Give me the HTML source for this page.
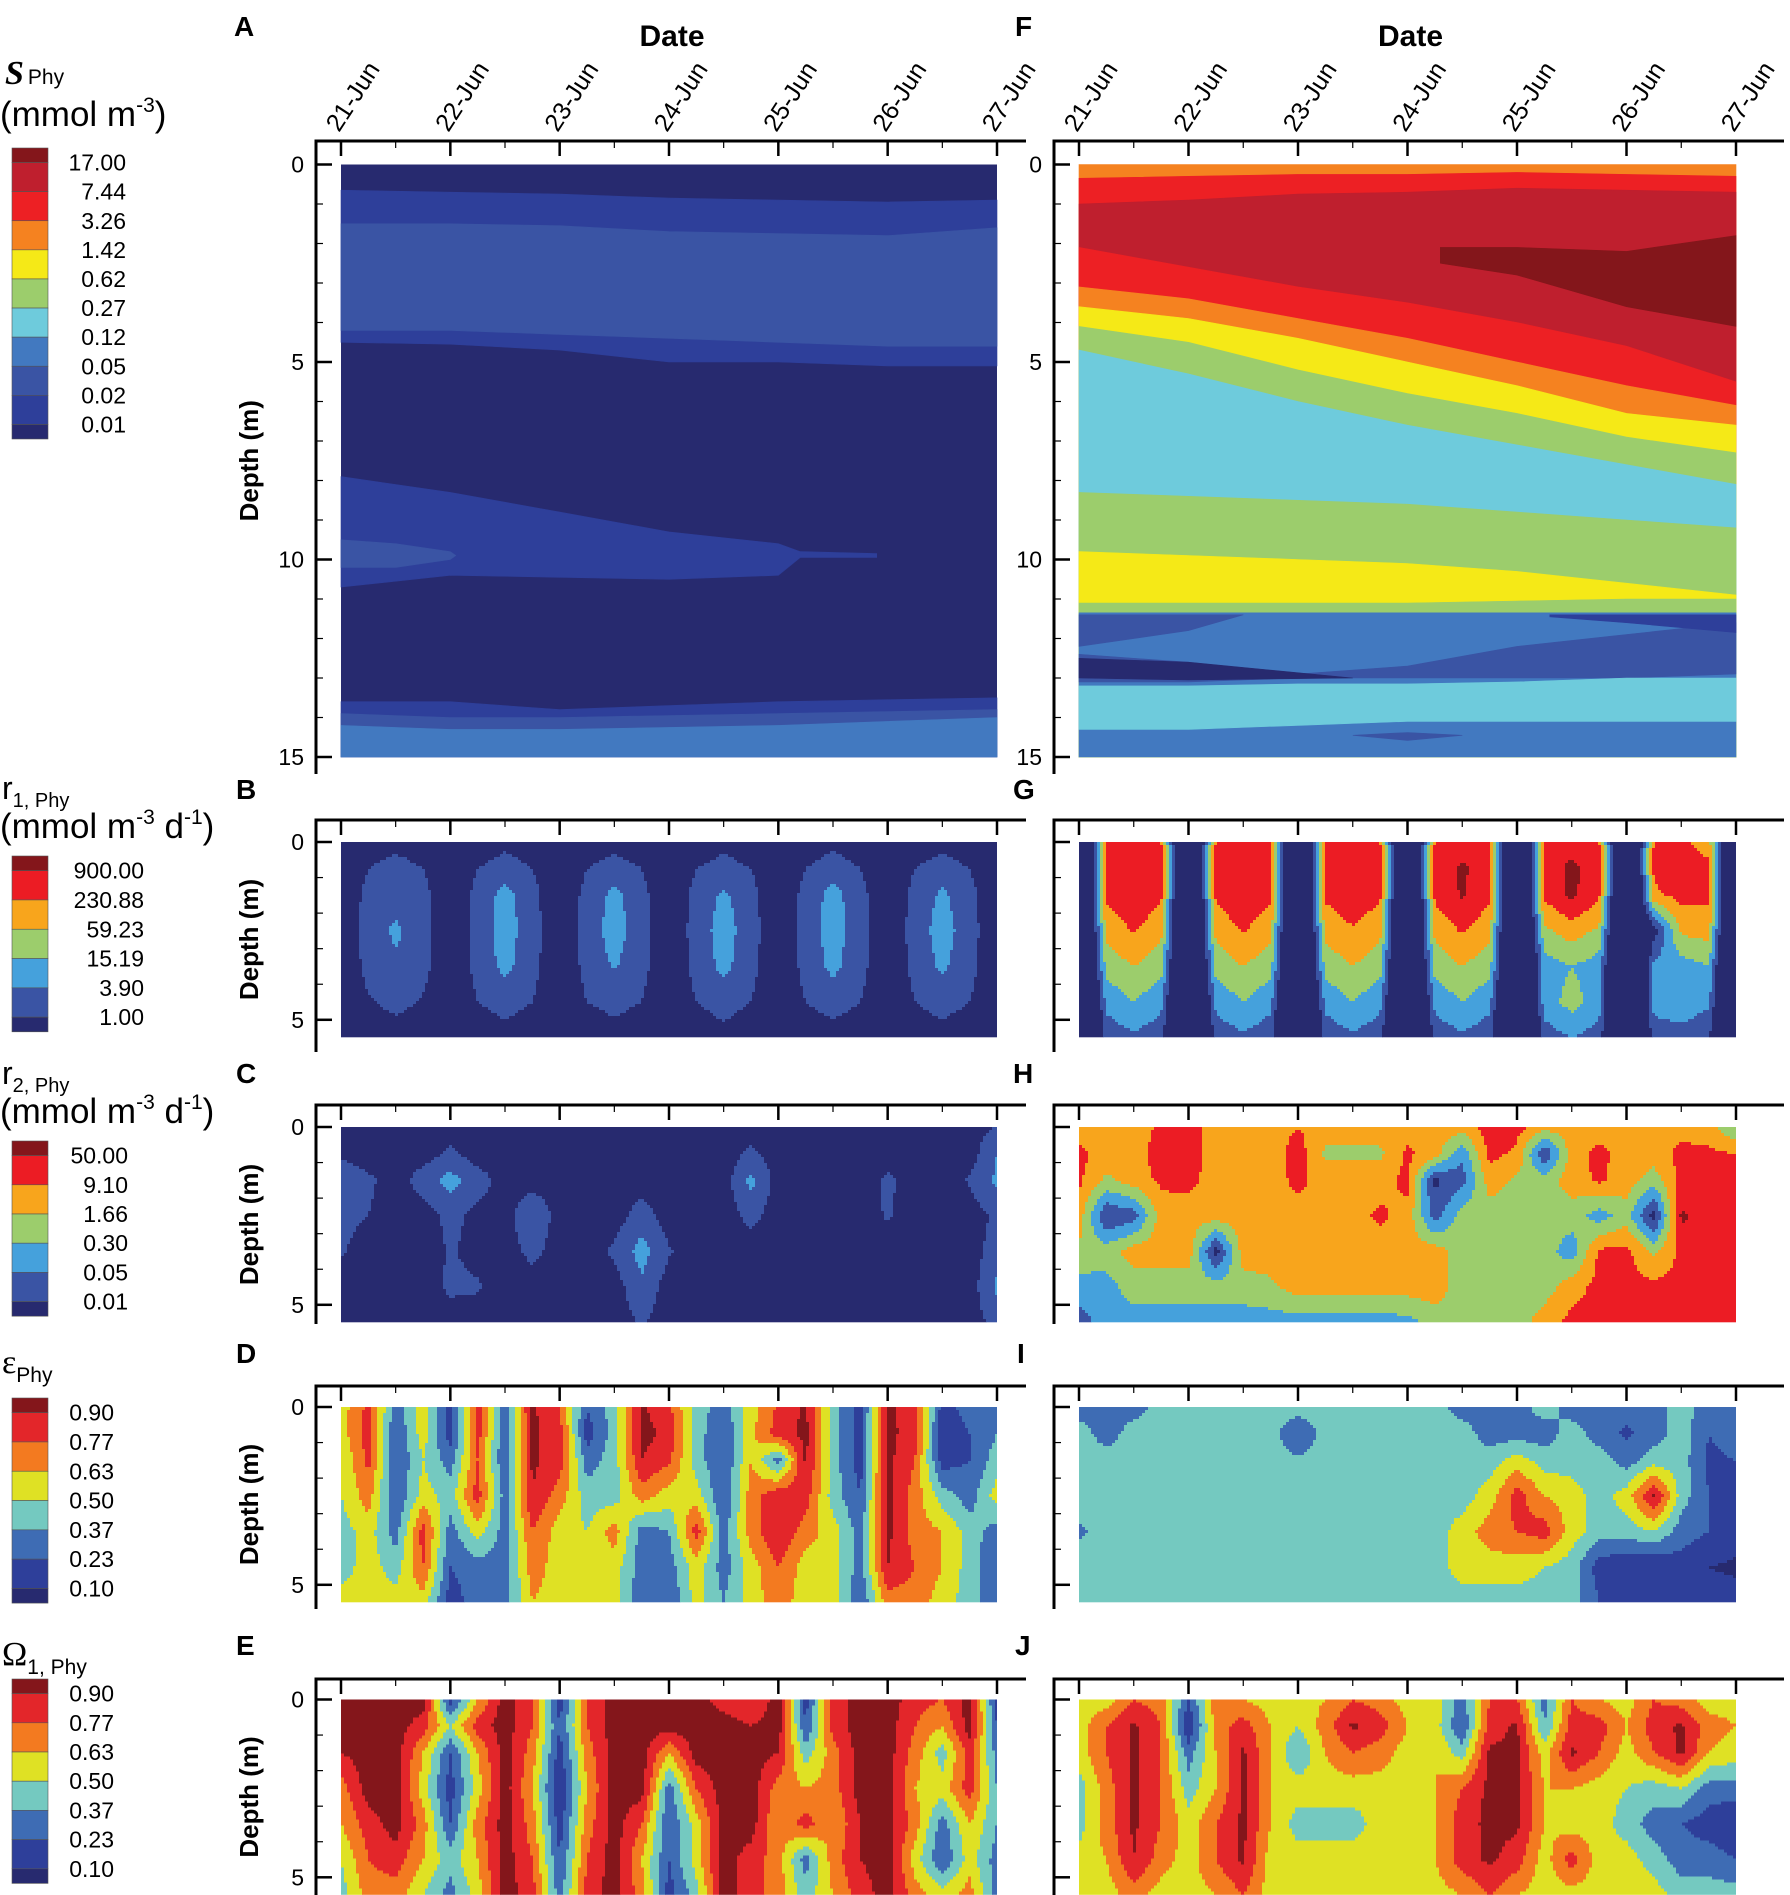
<!DOCTYPE html>
<html><head><meta charset="utf-8">
<style>
html,body{margin:0;padding:0;background:#fff;}
svg{display:block;font-family:"Liberation Sans",Arial,sans-serif;}
</style></head>
<body>
<svg id="fig" width="1790" height="1895" viewBox="0 0 1790 1895" xmlns="http://www.w3.org/2000/svg">
  <text x="5" y="84" font-family="Liberation Serif, serif" font-size="34" font-weight="bold" font-style="italic">S<tspan font-family="Liberation Sans, sans-serif" font-size="21" font-weight="normal" font-style="normal" dx="4">Phy</tspan></text>
  <text x="0" y="126" font-family="Liberation Sans, sans-serif" font-size="35">(mmol m<tspan font-size="21" dy="-14">-3</tspan><tspan dy="14">)</tspan></text>
  <text x="2" y="799" font-family="Liberation Sans, sans-serif" font-size="32">r<tspan font-size="20" dy="8">1, Phy</tspan></text>
  <text x="0" y="838" font-family="Liberation Sans, sans-serif" font-size="35">(mmol m<tspan font-size="21" dy="-14">-3</tspan><tspan dy="14"> d</tspan><tspan font-size="21" dy="-14">-1</tspan><tspan dy="14">)</tspan></text>
  <text x="2" y="1084" font-family="Liberation Sans, sans-serif" font-size="32">r<tspan font-size="20" dy="8">2, Phy</tspan></text>
  <text x="0" y="1123" font-family="Liberation Sans, sans-serif" font-size="35">(mmol m<tspan font-size="21" dy="-14">-3</tspan><tspan dy="14"> d</tspan><tspan font-size="21" dy="-14">-1</tspan><tspan dy="14">)</tspan></text>
  <text x="2" y="1373" font-family="Liberation Serif, serif" font-size="34">ε<tspan font-family="Liberation Sans, sans-serif" font-size="21" dy="9">Phy</tspan></text>
  <text x="2" y="1665" font-family="Liberation Serif, serif" font-size="34">Ω<tspan font-family="Liberation Sans, sans-serif" font-size="21" dy="9">1, Phy</tspan></text>
</svg>
<script>
// ---------- palettes ----------
const palS = ['#272a6f','#2e3f9a','#3a54a4','#4279c0','#6ecbdc','#9ccd6c','#f5e917','#f58220','#ed2024','#bf1f2e','#84161b'];
const palR = ['#272a6f','#3a54a4','#45a1dc','#9ccd6c','#f8a51c','#ec1c24','#84161b'];
const palE = ['#272a6f','#2e3f9a','#3e6cb4','#74c9c0','#dfe124','#f37a20','#e3262a','#84161b'];
// ---------- legend labels ----------
const legSLabels = ['17.00','7.44','3.26','1.42','0.62','0.27','0.12','0.05','0.02','0.01'];
const legR1Labels = ['900.00','230.88','59.23','15.19','3.90','1.00'];
const legR2Labels = ['50.00','9.10','1.66','0.30','0.05','0.01'];
const legEpsLabels = ['0.90','0.77','0.63','0.50','0.37','0.23','0.10'];
const legOmLabels = ['0.90','0.77','0.63','0.50','0.37','0.23','0.10'];
// ---------- axes ----------
const dateLabels = ['21-Jun','22-Jun','23-Jun','24-Jun','25-Jun','26-Jun','27-Jun'];
const depthTicksLong = [0,5,10,15];
const depthTicksShort = [0,5];
// ---------- panel A band boundaries (depth m at days) ----------
const aDays = [0,1,2,3,4,5,6];
const aB1Top = [0.65,0.7,0.75,0.85,0.9,0.95,0.9];
const aB1Bot = [4.5,4.55,4.7,5.0,5.0,5.1,5.1];
const aB2Top = [1.5,1.5,1.55,1.7,1.75,1.8,1.6];
const aB2Bot = [4.2,4.2,4.3,4.4,4.5,4.6,4.6];
const aB3Days = [0,1,2,3,4,4.2,4.9];
const aB3Top = [7.9,8.3,8.8,9.3,9.6,9.8,9.85];
const aB3Bot = [10.7,10.4,10.45,10.5,10.4,9.95,9.95];
const aB4Days = [0,0.5,1.0,1.05];
const aB4Top = [9.5,9.6,9.8,9.9];
const aB4Bot = [10.2,10.2,10.0,9.9];
const aB5Top = [13.6,13.6,13.8,13.7,13.6,13.55,13.5];
const aB6Top = [13.9,14.0,14.0,13.95,13.9,13.85,13.8];
const aB7Top = [14.2,14.3,14.3,14.25,14.2,14.1,14.0];
// ---------- panel F band tops (fill down) ----------
const fOrangeTop = [0,0,0,0,0,0,0];
const fRedTop = [0.35,0.3,0.25,0.25,0.2,0.25,0.3];
const fDarkTop = [1.0,0.9,0.75,0.7,0.6,0.65,0.7];
const fRed2Top = [2.1,2.6,3.1,3.5,4.0,4.6,5.5];
const fOrange2Top = [3.1,3.4,3.9,4.4,5.0,5.6,6.1];
const fYellowTop = [3.6,3.9,4.4,5.0,5.6,6.3,6.6];
const fGreenTop = [4.1,4.5,5.2,5.8,6.3,6.9,7.3];
const fCyanTop = [4.7,5.3,6.0,6.6,7.1,7.6,8.1];
const fGreen2Top = [8.3,8.4,8.5,8.6,8.8,9.0,9.2];
const fYellow2Top = [9.8,9.9,10.0,10.1,10.3,10.6,10.9];
const fGreen3Top = [11.1,11.1,11.1,11.1,11.05,11.0,11.0];
const fBlueTop = [11.35,11.35,11.35,11.35,11.35,11.35,11.35];
// F islands
const fMaxDays = [3.3,4,5,6];
const fMaxTop = [2.1,2.1,2.2,1.8];
const fMaxBot = [2.5,2.8,3.6,4.1];
const fL2Days = [0,1,2,3,4,5,6];
const fL2Top = [12.4,12.6,12.9,12.7,12.2,11.9,11.6];
const fL2Bot = [13.1,13.1,13.0,13.0,13.0,13.0,12.9];
const fL2bDays = [0,1,1.5];
const fL2bTop = [11.4,11.4,11.4];
const fL2bBot = [12.2,11.8,11.4];
const fNavyDays = [0,1,2.5];
const fNavyTop = [12.5,12.6,13.0];
const fNavyBot = [13.0,13.05,13.0];
const fNavy2Days = [4.3,5,6];
const fNavy2Top = [11.4,11.4,11.4];
const fNavy2Bot = [11.45,11.6,11.85];
const fCyanBandTop = [13.2,13.2,13.15,13.15,13.1,13.0,13.0];
const fCyanBandBot = [14.3,14.3,14.2,14.1,14.1,14.1,14.1];
const fSliverDays = [2.5,3,3.5];
const fSliverTop = [14.45,14.38,14.45];
const fSliverBot = [14.45,14.58,14.45];
// ---------- grid panels: rows at depths, 25 columns (quarter days) ----------
const gridDepths = [0,0.75,1.5,2.5,3.5,4.5,5.5];
const gridB = [
[.2,.3,.6,.3,.2,.3,.7,.3,.2,.3,.7,.3,.2,.3,.7,.3,.2,.3,.7,.3,.2,.3,.6,.3,.2],
[.2,1.0,1.5,1.0,.2,1.0,1.5,1.0,.2,1.0,1.4,1.0,.2,1.0,1.4,1.0,.2,1.0,1.6,1.0,.2,1.0,1.5,1.0,.2],
[.2,1.3,1.6,1.3,.2,1.3,2.4,1.3,.2,1.3,2.3,1.3,.2,1.3,2.2,1.3,.2,1.3,2.4,1.3,.2,1.3,2.2,1.3,.2],
[.2,1.4,2.2,1.4,.2,1.4,2.5,1.4,.2,1.4,2.5,1.4,.2,1.4,2.5,1.4,.2,1.4,2.5,1.4,.2,1.4,2.5,1.4,.2],
[.2,1.3,1.8,1.3,.2,1.3,2.3,1.3,.2,1.3,2.1,1.3,.2,1.3,2.3,1.3,.2,1.3,2.3,1.3,.2,1.3,2.2,1.3,.2],
[.2,.9,1.3,.9,.2,1.0,1.4,1.0,.2,1.0,1.3,1.0,.2,1.0,1.4,1.0,.2,1.0,1.4,1.0,.2,1.0,1.4,1.0,.2],
[.2,.3,.5,.3,.2,.3,.6,.3,.2,.3,.6,.3,.2,.3,.7,.3,.2,.3,.6,.3,.2,.3,.6,.3,.2]];
const gridG = [
[-4,5.1,5.5,5.1,-4,5.1,5.5,5.1,-4,5.1,5.5,5.1,-4,5.1,5.5,5.1,-4,5.1,5.5,5.1,-4,5.1,5.3,4.5,-4],
[-4,5.3,5.8,5.3,-4,5.3,5.8,5.3,-4,5.3,5.8,5.3,-4,5.3,6.2,5.3,-4,5.3,6.3,5.3,-4,5.2,5.6,5.3,-4],
[-4,5.2,5.8,5.2,-4,5.2,5.8,5.2,-4,5.2,5.7,5.2,-4,5.2,6.1,5.2,-4,5.2,6.2,5.2,-4,4.8,5.3,5.2,-4],
[-4,4.3,5.1,4.3,-4,4.3,5.1,4.3,-4,4.3,4.9,4.3,-4,4.3,5.1,4.3,-4,3.8,4.5,3.8,-4,0.5,4.2,4.4,-4],
[-4,3.4,4.0,3.4,-4,3.4,4.0,3.4,-4,3.4,4.0,3.4,-4,3.4,4.0,3.4,-4,2.5,3.0,2.5,-4,2.3,2.5,3.0,-4],
[-4,2.3,3.0,2.3,-4,2.3,3.0,2.3,-4,2.3,3.0,2.3,-4,2.3,3.0,2.3,-4,2.5,3.4,2.5,-4,2.4,2.6,2.2,-4],
[-4,1.4,1.8,1.4,-4,1.4,1.8,1.4,-4,1.4,1.8,1.4,-4,1.4,1.8,1.4,-4,1.5,2.0,1.5,-4,1.4,1.6,1.2,-4]];
const gridC = [
[.5,.5,.5,.5,.6,.5,.5,.5,.5,.5,.5,.5,.5,.5,.5,.5,.5,.5,.5,.5,.5,.5,.5,.5,1.1],
[.8,.5,.5,.5,1.2,.5,.5,.5,.5,.5,.5,.5,.5,.5,.5,1.2,.5,.5,.5,.5,.5,.5,.5,.5,2.0],
[1.8,1.2,.5,1.5,2.4,1.5,.5,.5,.5,.5,.5,.5,.5,.5,.5,2.3,.5,.5,.5,.5,1.2,.5,.5,1.1,2.2],
[1.3,1.0,.5,.5,1.3,.7,.5,2.0,.5,.5,.5,1.5,.5,.5,.5,1.3,.5,.5,.5,.5,1.1,.5,.5,.5,1.2],
[1.1,.5,.5,.5,1.1,.7,.5,1.3,.5,.5,1.2,2.4,1.1,.5,.5,.5,.5,.5,.5,.5,.5,.5,.5,.5,1.5],
[.5,.5,.5,.5,1.2,1.1,.5,.5,.5,.5,.5,1.8,.5,.5,.5,.5,.5,.5,.5,.5,.5,.5,.5,.5,2.2],
[.5,.5,.5,.5,.5,.5,.5,.5,.5,.5,.5,1.1,.5,.5,.5,.5,.5,.5,.5,.5,.5,.5,.5,.5,1.3]];
const gridH = [
[4.5,4.5,4.5,5.2,5.5,4.5,4.5,4.5,5.0,4.5,4.5,4.5,4.5,4.5,4.5,5.5,5.3,4.5,4.5,4.5,4.5,4.5,4.6,4.5,3.0],
[5.3,4.5,4.5,5.5,5.6,4.5,4.5,4.5,5.5,3.8,3.8,3.8,5.2,4.5,2.2,5.3,4.8,1.0,4.5,5.3,4.5,4.5,5.3,5.2,5.0],
[5.2,3.8,4.5,5.2,5.3,4.5,4.5,4.5,5.3,4.5,4.5,4.6,5.3,0.8,1.6,4.5,3.8,3.5,4.5,5.2,4.5,3.5,5.3,5.4,5.3],
[4.5,1.0,1.5,4.5,4.5,4.5,4.5,4.5,4.6,4.5,4.6,5.2,4.6,1.5,3.5,3.5,3.5,3.5,3.5,2.5,3.5,0.5,6.2,5.5,5.3],
[3.8,3.5,4.5,4.5,4.5,0.6,4.5,4.5,4.5,4.5,4.5,4.5,4.5,4.5,3.5,3.5,3.5,3.5,2.4,5.2,5.3,3.8,5.3,5.3,5.3],
[2.5,2.6,3.5,3.5,3.5,3.5,3.5,3.8,4.5,4.5,4.5,4.5,4.5,4.5,3.5,3.5,3.5,3.5,4.6,5.3,5.3,5.3,5.3,5.3,5.3],
[1.5,2.5,2.5,2.5,2.5,2.5,2.5,2.5,2.5,2.5,2.5,2.5,2.6,3.5,3.5,3.5,3.5,4.5,5.3,5.3,5.3,5.3,5.3,5.3,5.3]];
const gridD = [
[4.5,6.3,2.5,4.5,1.5,6.5,2.5,7.2,6.0,2.0,3.5,7.2,6.2,3.5,2.5,4.5,6.2,7.2,3.5,1.5,7.2,6.5,1.5,2.5,3.0],
[4.5,6.5,2.0,4.5,1.5,6.5,2.0,7.2,6.5,1.5,3.5,7.3,6.8,3.5,2.0,4.8,6.5,7.3,3.5,1.5,7.3,6.5,1.2,2.0,3.0],
[4.0,6.3,2.0,4.0,2.5,6.0,2.0,7.2,6.5,2.5,3.5,7.0,6.2,3.5,2.0,5.0,2.5,7.2,3.5,1.5,7.3,6.0,1.5,2.0,3.5],
[4.0,5.5,2.0,4.5,3.5,6.5,2.5,7.0,5.5,3.5,3.5,5.5,4.5,4.5,2.0,5.5,6.8,6.5,3.5,2.0,7.3,5.5,3.5,2.5,4.5],
[3.5,4.5,2.5,6.5,2.5,4.5,2.5,6.0,4.5,4.0,5.5,2.5,3.0,6.5,2.5,5.5,7.0,5.5,4.5,2.5,7.3,5.5,5.0,3.5,2.5],
[3.5,4.5,3.5,6.0,2.0,2.5,2.5,5.5,4.5,4.5,4.5,2.5,2.5,4.5,2.5,4.5,6.0,4.5,4.5,2.5,7.0,6.0,5.0,3.5,2.0],
[4.5,4.5,4.5,4.5,1.5,2.5,2.5,5.0,4.5,4.5,4.5,2.0,2.0,4.5,3.0,4.5,5.5,4.5,4.5,2.0,5.5,5.5,4.5,3.5,2.0]];
const gridE = [
[7.5,7.5,7.5,7.5,1.5,5.0,7.5,6.0,1.5,6.0,7.5,7.5,7.5,7.5,6.5,6.0,7.5,1.5,6.5,7.5,7.5,6.5,6.0,7.5,1.5],
[7.5,7.5,7.5,6.5,4.0,6.5,7.5,6.0,2.0,6.0,7.5,7.5,7.5,7.5,7.5,7.0,7.5,2.0,6.5,7.5,7.5,6.0,5.0,7.5,2.0],
[7.0,7.5,7.5,5.0,2.0,5.0,7.5,5.5,1.5,5.5,7.5,7.5,5.0,7.5,7.5,7.5,7.0,3.5,5.5,7.5,7.5,5.5,3.5,6.5,2.5],
[5.5,7.5,7.5,4.5,1.5,4.5,7.5,5.0,1.0,5.0,7.5,7.5,2.5,6.0,7.5,7.5,5.5,5.0,5.5,7.5,7.5,5.0,4.5,6.5,3.0],
[5.0,6.5,7.5,5.5,2.0,5.5,7.5,5.5,1.5,5.5,7.5,6.0,2.0,4.5,7.5,7.5,5.0,6.5,5.0,7.0,7.5,5.5,2.5,5.0,3.0],
[4.0,6.0,6.5,5.0,3.5,5.0,7.5,6.0,2.0,6.0,7.5,5.0,2.0,4.5,7.5,6.5,5.5,2.5,5.5,7.0,7.5,4.5,2.0,4.5,2.5],
[3.5,5.5,5.5,4.0,2.5,4.5,7.5,6.5,2.5,6.5,7.5,5.5,1.5,3.5,7.5,6.5,5.5,3.5,5.0,6.5,7.5,5.5,4.5,5.5,2.5]];
const gridI = [
[2.5,2.5,2.5,3.5,3.5,3.5,3.5,3.5,3.5,3.5,3.5,3.5,3.5,3.5,2.5,2.5,2.5,3.5,2.5,2.5,2.5,2.5,3.5,2.5,2.5],
[3.5,2.5,3.5,3.5,3.5,3.5,3.5,3.5,2.0,3.5,3.5,3.5,3.5,3.5,3.5,2.5,2.5,2.5,3.5,2.5,1.8,2.5,3.5,2.0,2.5],
[3.5,3.5,3.5,3.5,3.5,3.5,3.5,3.5,3.2,3.5,3.5,3.5,3.5,3.5,3.5,3.5,4.5,3.5,3.5,3.5,2.5,3.5,3.5,1.8,2.0],
[3.5,3.5,3.5,3.5,3.5,3.5,3.5,3.5,3.5,3.5,3.5,3.5,3.5,3.5,3.5,4.5,6.5,5.0,4.5,3.5,4.5,7.2,3.5,2.0,1.5],
[2.8,3.5,3.5,3.5,3.5,3.5,3.5,3.5,3.5,3.5,3.5,3.5,3.5,3.5,4.5,5.5,6.0,6.5,4.5,3.5,3.5,4.0,2.5,2.0,1.5],
[3.5,3.5,3.5,3.5,3.5,3.5,3.5,3.5,3.5,3.5,3.5,3.5,3.5,3.5,4.5,4.5,4.5,4.0,3.5,1.5,1.0,1.0,1.5,1.0,0.8],
[3.5,3.5,3.5,3.5,3.5,3.5,3.5,3.5,3.5,3.5,3.5,3.5,3.5,3.5,3.5,3.5,3.5,3.5,3.5,2.0,1.5,1.5,1.5,1.5,1.5]];
const gridJ = [
[4.5,4.5,6.0,5.5,2.0,5.5,5.0,4.5,4.5,5.0,6.0,5.5,4.5,4.5,2.5,6.0,6.0,2.5,6.0,5.0,4.5,6.0,5.5,4.5,4.5],
[4.5,6.0,7.2,6.0,1.0,5.5,6.5,5.0,4.0,5.5,7.2,6.5,5.0,4.5,2.0,6.5,7.2,3.0,6.5,6.5,5.0,6.5,7.2,5.5,5.0],
[4.5,6.0,7.2,6.0,2.5,5.0,7.2,5.0,3.0,5.0,6.0,5.5,4.5,5.0,3.5,7.2,7.2,4.5,7.2,6.0,4.5,6.0,7.2,5.0,4.5],
[3.5,5.5,7.2,6.0,3.5,5.0,7.2,5.0,4.5,4.5,4.5,4.5,4.5,5.0,6.0,7.3,7.2,5.0,5.0,4.5,4.0,3.5,4.0,2.5,2.5],
[3.5,5.5,7.2,6.0,4.5,6.0,7.2,5.0,3.5,3.5,3.5,4.5,4.5,5.0,6.5,7.3,7.2,5.0,4.5,4.5,3.5,2.5,2.0,1.5,1.0],
[4.5,5.0,7.0,5.5,4.5,6.0,7.2,4.5,4.5,4.5,4.5,4.5,4.5,5.0,6.5,7.2,6.5,4.5,6.5,4.5,4.5,3.5,2.5,2.5,2.0],
[4.5,4.5,5.5,4.5,4.5,5.0,6.0,4.5,4.5,4.5,4.5,4.5,4.5,4.5,5.0,6.0,5.0,4.5,4.5,4.5,4.5,4.5,3.5,3.5,3.5]];

// ---------- helpers ----------
const NS = 'http://www.w3.org/2000/svg';
const svg = document.getElementById('fig');
function mk(tag, attrs, parent) {
  const e = document.createElementNS(NS, tag);
  for (const k in attrs) e.setAttribute(k, attrs[k]);
  (parent || svg).appendChild(e);
  return e;
}
function group(name) {
  const g = mk('g', {});
  
  
  return g;
}

const geo = {
  A:{x0:341,x1:997,y0:164.5,ppm:39.5,maxD:15,ax:316,top:141,end:1026,bot:774,letter:'A',lx:234,ly:36},
  F:{x0:1079,x1:1736,y0:164.5,ppm:39.5,maxD:15,ax:1054,top:141,end:1784,bot:774,letter:'F',lx:1015,ly:36},
  B:{x0:341,x1:997,y0:842,ppm:35.56,maxD:5.48,ax:316,top:820,end:1026,bot:1052,letter:'B',lx:236,ly:799},
  G:{x0:1079,x1:1736,y0:842,ppm:35.56,maxD:5.48,ax:1054,top:820,end:1784,bot:1052,letter:'G',lx:1013,ly:799},
  C:{x0:341,x1:997,y0:1127,ppm:35.56,maxD:5.48,ax:316,top:1105,end:1026,bot:1324,letter:'C',lx:236,ly:1083},
  H:{x0:1079,x1:1736,y0:1127,ppm:35.56,maxD:5.48,ax:1054,top:1105,end:1784,bot:1324,letter:'H',lx:1013,ly:1083},
  D:{x0:341,x1:997,y0:1407,ppm:35.56,maxD:5.48,ax:316,top:1386,end:1026,bot:1609,letter:'D',lx:236,ly:1363},
  I:{x0:1079,x1:1736,y0:1407,ppm:35.56,maxD:5.48,ax:1054,top:1386,end:1784,bot:1609,letter:'I',lx:1017,ly:1363},
  E:{x0:341,x1:997,y0:1699.5,ppm:35.56,maxD:5.48,ax:316,top:1679,end:1026,bot:1895,letter:'E',lx:236,ly:1655},
  J:{x0:1079,x1:1736,y0:1699.5,ppm:35.56,maxD:5.48,ax:1054,top:1679,end:1784,bot:1895,letter:'J',lx:1015,ly:1655}
};
function xScale(p, day) { return p.x0 + (p.x1 - p.x0) * day / 6; }
function yScale(p, d) { return p.y0 + p.ppm * d; }

function band(p, g, pal, lvl, days, top, bot, name) {
  const pts = [];
  for (let i = 0; i < days.length; i++) pts.push(xScale(p, days[i]).toFixed(1) + ',' + yScale(p, top[i]).toFixed(1));
  for (let i = days.length - 1; i >= 0; i--) {
    const d = bot ? bot[i] : p.maxD;
    pts.push(xScale(p, days[i]).toFixed(1) + ',' + yScale(p, d).toFixed(1));
  }
  const poly = mk('polygon', {points: pts.join(' '), fill: pal[lvl], stroke: pal[lvl], 'stroke-width': 0.6}, g);
  
  
}

function gridPanel(p, grid, pal, name) {
  const g = group(name);
  const W = p.x1 - p.x0, H = p.ppm * p.maxD, step = 3;
  const nc = grid[0].length;
  const ncells = Math.ceil(W / step);
  for (let py = 0; py < H; py += step) {
    const d = (py + step / 2) / p.ppm;
    let r = 0;
    while (r < gridDepths.length - 2 && d > gridDepths[r + 1]) r++;
    let t = (d - gridDepths[r]) / (gridDepths[r + 1] - gridDepths[r]);
    t = Math.max(0, Math.min(1, t));
    const h = Math.min(step, H - py);
    let runStart = 0, runLvl = -1;
    for (let k = 0; k <= ncells; k++) {
      const px = k * step;
      let lvl = -1;
      if (k < ncells) {
        const c = Math.min(W, px + step / 2) / W * (nc - 1);
        const c0 = Math.min(nc - 2, Math.floor(c));
        const s = c - c0;
        const v = (1 - t) * ((1 - s) * grid[r][c0] + s * grid[r][c0 + 1]) + t * ((1 - s) * grid[r + 1][c0] + s * grid[r + 1][c0 + 1]);
        lvl = Math.max(0, Math.min(pal.length - 1, Math.floor(v)));
      }
      if (lvl !== runLvl) {
        if (runLvl >= 0) {
          const xe = Math.min(px, W);
          const cell = mk('rect', {x: (p.x0 + runStart).toFixed(1), y: (p.y0 + py).toFixed(1), width: (xe - runStart + (xe < W ? 0.4 : 0)).toFixed(1), height: (h + 0.4).toFixed(1), fill: pal[runLvl]}, g);
          
          
        }
        runStart = px; runLvl = lvl;
      }
    }
  }
}

function axes(p, withDates, depthTicks) {
  const g = group('axes-' + p.letter);
  const l1 = mk('line', {x1: p.ax, y1: p.top, x2: p.end, y2: p.top, stroke: '#000', 'stroke-width': 3}, g);
  
  
  const l2 = mk('line', {x1: p.ax, y1: p.top - 1.5, x2: p.ax, y2: p.bot, stroke: '#000', 'stroke-width': 3}, g);
  
  
  for (let k = 0; k <= 12; k++) {
    const x = xScale(p, k / 2);
    const len = k % 2 === 0 ? 15 : 7;
    const tk = mk('line', {x1: x, y1: p.top, x2: x, y2: p.top + len, stroke: '#000', 'stroke-width': k % 2 === 0 ? 2.5 : 1.2}, g);
    
    
  }
  for (let d = 0; d <= Math.floor(p.maxD); d++) {
    const y = yScale(p, d);
    const major = d % 5 === 0;
    const tk = mk('line', {x1: p.ax, y1: y, x2: p.ax + (major ? 16 : 7), y2: y, stroke: '#000', 'stroke-width': major ? 2.5 : 1.2}, g);
    
    
  }
  for (let i = 0; i < depthTicks.length; i++) {
    const tl = mk('text', {x: p.ax - 12, y: yScale(p, depthTicks[i]) + 8, 'font-size': 23, 'text-anchor': 'end'}, g);
    tl.textContent = String(depthTicks[i]);
    
    
  }
  if (withDates) {
    for (let i = 0; i < dateLabels.length; i++) {
      const x = xScale(p, i) - 2, y = p.top - 8;
      const dl = mk('text', {x: x, y: y, 'font-size': 25, transform: 'rotate(-57 ' + x + ' ' + y + ')'}, g);
      dl.textContent = dateLabels[i];
      
      
    }
    const dt = mk('text', {x: (p.x0 + p.x1) / 2 + 3, y: 46, 'font-size': 30, 'font-weight': 'bold', 'text-anchor': 'middle'}, g);
    dt.textContent = 'Date';
    
    
  }
  if (p.x0 < 500) {
    const cy = p.y0 + p.ppm * p.maxD / 2;
    const yt = mk('text', {x: 258, y: cy, 'font-size': 26, 'font-weight': 'bold', 'text-anchor': 'middle', transform: 'rotate(-90 258 ' + cy + ')'}, g);
    yt.textContent = 'Depth (m)';
    
    
  }
  const pl = mk('text', {x: p.lx, y: p.ly, 'font-size': 28, 'font-weight': 'bold'}, g);
  pl.textContent = p.letter;
  
  
}

function legend(name, pal, labels, y0, unit, labelRight) {
  const g = group(name);
  const n = pal.length;
  for (let i = 0; i < n; i++) {
    const lvl = n - 1 - i;
    const top = i === 0 ? y0 : y0 + unit / 2 + (i - 1) * unit;
    const h = (i === 0 || i === n - 1) ? unit / 2 : unit;
    const sw = mk('rect', {x: 12, y: top, width: 36, height: h, fill: pal[lvl], stroke: '#555', 'stroke-width': 0.6}, g);
    
    
  }
  for (let i = 0; i < labels.length; i++) {
    const y = y0 + unit / 2 + i * unit;
    const t = mk('text', {x: labelRight, y: y + 8, 'font-size': 23, 'text-anchor': 'end'}, g);
    t.textContent = labels[i];
    
    
  }
}

// ---------- Panel A ----------
(function () {
  const p = geo.A;
  const g = group('panel-a-phytoplankton');
  const bg = mk('rect', {x: p.x0, y: p.y0, width: p.x1 - p.x0, height: p.ppm * p.maxD, fill: palS[0]}, g);
  
  
  band(p, g, palS, 1, aDays, aB1Top, aB1Bot, 'band-0.01');
  band(p, g, palS, 2, aDays, aB2Top, aB2Bot, 'band-0.02');
  band(p, g, palS, 1, aB3Days, aB3Top, aB3Bot, 'band-0.01-lower');
  band(p, g, palS, 2, aB4Days, aB4Top, aB4Bot, 'band-0.02-lower');
  band(p, g, palS, 1, aDays, aB5Top, null, 'band-0.01-bottom');
  band(p, g, palS, 2, aDays, aB6Top, null, 'band-0.02-bottom');
  band(p, g, palS, 3, aDays, aB7Top, null, 'band-0.05-bottom');
  axes(p, true, depthTicksLong);
})();
// ---------- Panel F ----------
(function () {
  const p = geo.F;
  const g = group('panel-f-phytoplankton');
  const D = aDays;
  band(p, g, palS, 7, D, fOrangeTop, null, 'band-orange');
  band(p, g, palS, 8, D, fRedTop, null, 'band-red');
  band(p, g, palS, 9, D, fDarkTop, null, 'band-dark-red');
  band(p, g, palS, 8, D, fRed2Top, null, 'band-red-2');
  band(p, g, palS, 7, D, fOrange2Top, null, 'band-orange-2');
  band(p, g, palS, 6, D, fYellowTop, null, 'band-yellow');
  band(p, g, palS, 5, D, fGreenTop, null, 'band-green');
  band(p, g, palS, 4, D, fCyanTop, null, 'band-cyan');
  band(p, g, palS, 5, D, fGreen2Top, null, 'band-green-2');
  band(p, g, palS, 6, D, fYellow2Top, null, 'band-yellow-2');
  band(p, g, palS, 5, D, fGreen3Top, null, 'band-green-3');
  band(p, g, palS, 3, D, fBlueTop, null, 'band-blue');
  band(p, g, palS, 10, fMaxDays, fMaxTop, fMaxBot, 'band-max');
  band(p, g, palS, 2, fL2bDays, fL2bTop, fL2bBot, 'band-l2-left');
  band(p, g, palS, 2, fL2Days, fL2Top, fL2Bot, 'band-l2');
  band(p, g, palS, 0, fNavyDays, fNavyTop, fNavyBot, 'band-navy');
  band(p, g, palS, 1, fNavy2Days, fNavy2Top, fNavy2Bot, 'band-navy-right');
  band(p, g, palS, 4, D, fCyanBandTop, fCyanBandBot, 'band-cyan-deep');
  band(p, g, palS, 2, fSliverDays, fSliverTop, fSliverBot, 'band-sliver');
  axes(p, true, depthTicksLong);
})();
// ---------- grid panels ----------
gridPanel(geo.B, gridB, palR, 'panel-b-r1');
axes(geo.B, false, depthTicksShort);
gridPanel(geo.G, gridG, palR, 'panel-g-r1');
axes(geo.G, false, []);
gridPanel(geo.C, gridC, palR, 'panel-c-r2');
axes(geo.C, false, depthTicksShort);
gridPanel(geo.H, gridH, palR, 'panel-h-r2');
axes(geo.H, false, []);
gridPanel(geo.D, gridD, palE, 'panel-d-epsilon');
axes(geo.D, false, depthTicksShort);
gridPanel(geo.I, gridI, palE, 'panel-i-epsilon');
axes(geo.I, false, []);
gridPanel(geo.E, gridE, palE, 'panel-e-omega');
axes(geo.E, false, depthTicksShort);
gridPanel(geo.J, gridJ, palE, 'panel-j-omega');
axes(geo.J, false, []);

// ---------- legends ----------
legend('legend-s-phy', palS, legSLabels, 148, 29.1, 126);
legend('legend-r1-phy', palR, legR1Labels, 856, 29.3, 144);
legend('legend-r2-phy', palR, legR2Labels, 1141, 29.2, 128);
legend('legend-eps-phy', palE, legEpsLabels, 1398, 29.3, 114);
legend('legend-omega-phy', palE, legOmLabels, 1679, 29.2, 114);
</script>
</body></html>
